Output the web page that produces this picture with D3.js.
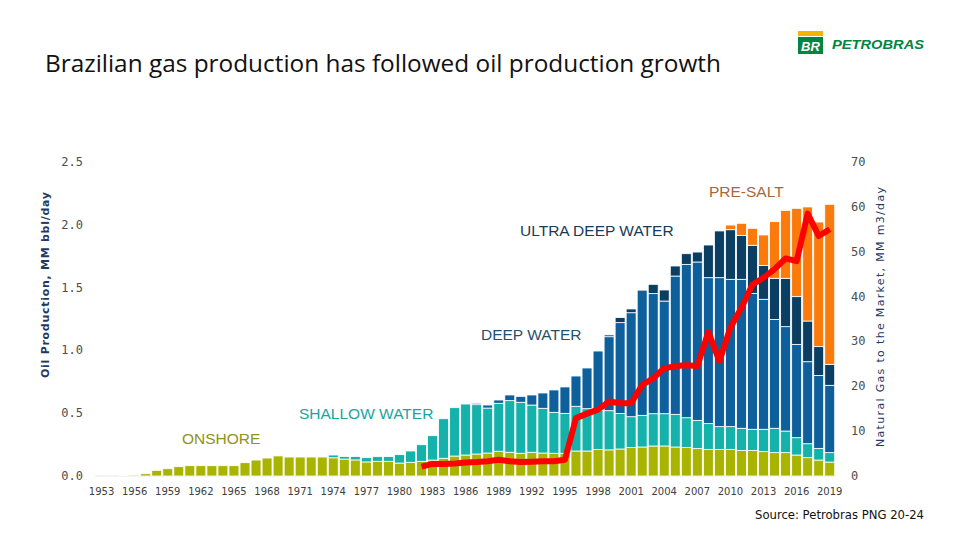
<!DOCTYPE html>
<html>
<head>
<meta charset="utf-8">
<script src="https://cdn.jsdelivr.net/npm/d3@7"></script>
<style>
  body { margin: 0; background: #fff; }
  svg { display: block; }
</style>
</head>
<body>
<div id="chart"></div>
<script>
// Years on the x axis (one bar each)
const years = d3.range(1953, 2020);
const yearTicks = [1953, 1956, 1959, 1962, 1965, 1968, 1971, 1974, 1977, 1980, 1983, 1986,
  1989, 1992, 1995, 1998, 2001, 2004, 2007, 2010, 2013, 2016, 2019];

// Oil production by water depth, MM bbl/day (1953..2019)
const onshore = [0.002, 0.003, 0.005, 0.008, 0.018, 0.045, 0.058, 0.074, 0.082, 0.082,
  0.082, 0.082, 0.082, 0.106, 0.127, 0.143, 0.160, 0.151, 0.151, 0.151,
  0.151, 0.145, 0.135, 0.128, 0.112, 0.117, 0.117, 0.103, 0.109, 0.117,
  0.127, 0.141, 0.159, 0.167, 0.175, 0.183, 0.197, 0.189, 0.181, 0.189,
  0.183, 0.181, 0.181, 0.199, 0.199, 0.212, 0.208, 0.215, 0.226, 0.231,
  0.239, 0.239, 0.231, 0.226, 0.218, 0.212, 0.212, 0.212, 0.204, 0.204,
  0.194, 0.186, 0.186, 0.167, 0.146, 0.127, 0.111];
const shallow = [0, 0, 0, 0, 0, 0, 0, 0, 0, 0,
  0, 0, 0, 0, 0, 0, 0, 0, 0, 0,
  0, 0.022, 0.020, 0.027, 0.034, 0.037, 0.037, 0.067, 0.090, 0.132,
  0.194, 0.315, 0.385, 0.406, 0.393, 0.358, 0.382, 0.411, 0.406, 0.376,
  0.356, 0.326, 0.318, 0.356, 0.337, 0.311, 0.312, 0.283, 0.246, 0.252,
  0.257, 0.257, 0.260, 0.238, 0.225, 0.205, 0.181, 0.181, 0.176, 0.168,
  0.178, 0.194, 0.172, 0.138, 0.111, 0.093, 0.075];
const deep = [0, 0, 0, 0, 0, 0, 0, 0, 0, 0,
  0, 0, 0, 0, 0, 0, 0, 0, 0, 0,
  0, 0, 0, 0, 0, 0, 0, 0, 0, 0,
  0, 0, 0, 0, 0.011, 0.024, 0.026, 0.045, 0.047, 0.080,
  0.122, 0.178, 0.210, 0.241, 0.324, 0.472, 0.589, 0.723, 0.828, 0.998,
  0.956, 0.897, 1.101, 1.221, 1.261, 1.162, 1.186, 1.173, 1.186, 1.082,
  1.035, 0.867, 0.831, 0.743, 0.653, 0.581, 0.536];
const ultraDeep = [0, 0, 0, 0, 0, 0, 0, 0, 0, 0,
  0, 0, 0, 0, 0, 0, 0, 0, 0, 0,
  0, 0, 0, 0, 0, 0, 0, 0, 0, 0,
  0, 0, 0, 0, 0, 0, 0, 0, 0, 0,
  0, 0, 0, 0, 0, 0, 0.014, 0.040, 0.030, 0.005,
  0.074, 0.088, 0.080, 0.085, 0.079, 0.260, 0.372, 0.395, 0.350, 0.383,
  0.270, 0.327, 0.385, 0.380, 0.324, 0.229, 0.167];
const preSalt = [0, 0, 0, 0, 0, 0, 0, 0, 0, 0,
  0, 0, 0, 0, 0, 0, 0, 0, 0, 0,
  0, 0, 0, 0, 0, 0, 0, 0, 0, 0,
  0, 0, 0, 0, 0, 0, 0, 0, 0, 0,
  0, 0, 0, 0, 0, 0, 0, 0, 0, 0,
  0, 0, 0, 0, 0, 0, 0, 0.037, 0.096, 0.135,
  0.242, 0.451, 0.541, 0.703, 0.908, 0.992, 1.274];

// Natural gas to the market, MM m3/day (null before 1982)
const gas = [null, null, null, null, null, null, null, null, null, null,
  null, null, null, null, null, null, null, null, null, null,
  null, null, null, null, null, null, null, null, null, 2.1,
  2.7, 2.7, 2.8, 3.0, 3.1, 3.3, 3.6, 3.3, 3.1, 3.2,
  3.3, 3.3, 3.6, 12.9, 13.9, 14.8, 16.6, 16.2, 16.2, 20.3,
  21.8, 24.0, 24.5, 24.7, 24.5, 32.1, 25.6, 33.1, 37.5, 42.7,
  44.2, 46.1, 48.5, 47.9, 58.5, 53.5, 55.0];

const oilTicks = [0, 0.5, 1.0, 1.5, 2.0, 2.5];
const gasTicks = [0, 10, 20, 30, 40, 50, 60, 70];

const seriesKeys = ["onshore", "shallow", "deep", "ultra", "presalt"];
const seriesColors = ["#a9b400", "#14b2aa", "#0d609c", "#0a3e62", "#fa7b0c"];

const width = 960, height = 540;
const svg = d3.select("#chart").append("svg")
  .attr("width", width)
  .attr("height", height);

// Scales
const x = d3.scaleBand()
  .domain(years)
  .range([95.5, 835.8])
  .padding(0.1);
const yOil = d3.scaleLinear().domain([0, 2.5]).range([476, 162]);
const yGas = d3.scaleLinear().domain([0, 70]).range([476, 162]);

// Build table for stacking
const table = years.map((yr, i) => ({
  year: yr,
  onshore: onshore[i],
  shallow: shallow[i],
  deep: deep[i],
  ultra: ultraDeep[i],
  presalt: preSalt[i]
}));
const stacked = d3.stack().keys(seriesKeys)(table);

// Baseline
svg.append("line")
  .attr("x1", x.range()[0]).attr("x2", x.range()[1])
  .attr("y1", yOil(0)).attr("y2", yOil(0))
  .attr("stroke", "#d9d9d9")
  .attr("stroke-width", 1);

// Bars
svg.append("g")
  .selectAll("g")
  .data(stacked)
  .join("g")
  .attr("fill", (d, i) => seriesColors[i])
  .selectAll("rect")
  .data(d => d.filter(p => p[1] - p[0] > 0))
  .join("rect")
  .attr("x", d => x(d.data.year))
  .attr("width", x.bandwidth())
  .attr("y", d => yOil(d[1]))
  .attr("height", d => yOil(d[0]) - yOil(d[1]))
  .attr("stroke", "#fff")
  .attr("stroke-width", 0.8);

// Gas line
const gasLine = d3.line()
  .defined(d => d.v != null)
  .x(d => x(d.year) + x.bandwidth() / 2)
  .y(d => yGas(d.v));
svg.append("path")
  .datum(years.map((yr, i) => ({ year: yr, v: gas[i] })))
  .attr("d", gasLine)
  .attr("fill", "none")
  .attr("stroke", "#ff0000")
  .attr("stroke-width", 6)
  .attr("stroke-linejoin", "round");

// Left axis labels
svg.append("g")
  .selectAll("text")
  .data(oilTicks)
  .join("text")
  .attr("x", 83)
  .attr("y", d => yOil(d) + 4)
  .attr("text-anchor", "end")
  .style("font-family", "DejaVu Sans Mono")
  .style("font-size", "12px")
  .style("fill", "#4d4d4d")
  .text(d => d.toFixed(1));

// Right axis labels
svg.append("g")
  .selectAll("text")
  .data(gasTicks)
  .join("text")
  .attr("x", 851)
  .attr("y", d => yGas(d) + 4)
  .attr("text-anchor", "start")
  .style("font-family", "DejaVu Sans Mono")
  .style("font-size", "12px")
  .style("fill", "#4d4d4d")
  .text(d => d);

// X tick labels
svg.append("g")
  .selectAll("text")
  .data(yearTicks)
  .join("text")
  .attr("x", d => x(d) + x.bandwidth() / 2)
  .attr("y", 495)
  .attr("text-anchor", "middle")
  .style("font-family", "DejaVu Sans")
  .style("font-size", "10px")
  .style("fill", "#404040")
  .text(d => d);

// Axis titles
svg.append("text")
  .attr("transform", "translate(49,285) rotate(-90)")
  .attr("text-anchor", "middle")
  .attr("textLength", 186)
  .style("font-family", "DejaVu Sans")
  .style("font-size", "11px")
  .style("font-weight", "bold")
  .style("fill", "#1f3864")
  .text("Oil Production, MM bbl/day");

svg.append("text")
  .attr("transform", "translate(884,317) rotate(-90)")
  .attr("text-anchor", "middle")
  .attr("textLength", 260)
  .style("font-family", "DejaVu Sans")
  .style("font-size", "11px")
  .style("fill", "#1f3864")
  .text("Natural Gas to the Market, MM m3/day");

// Series labels
const seriesLabels = [
  { text: "ONSHORE", x: 182, y: 444, color: "#8e9220" },
  { text: "SHALLOW WATER", x: 299, y: 419, color: "#1aa5a0" },
  { text: "DEEP WATER", x: 481, y: 340, color: "#1f5170" },
  { text: "ULTRA DEEP WATER", x: 520, y: 236, color: "#173a58" },
  { text: "PRE-SALT", x: 709, y: 197, color: "#a5693a" }
];
svg.append("g")
  .selectAll("text")
  .data(seriesLabels)
  .join("text")
  .attr("x", d => d.x)
  .attr("y", d => d.y)
  .style("font-family", "Liberation Sans")
  .style("font-size", "15.5px")
  .style("fill", d => d.color)
  .text(d => d.text);

// Title
svg.append("text")
  .attr("x", 45)
  .attr("y", 72)
  .attr("textLength", 676)
  .attr("lengthAdjust", "spacingAndGlyphs")
  .style("font-family", "Open Sans")
  .style("font-size", "23px")
  .style("fill", "#111")
  .text("Brazilian gas production has followed oil production growth");

// Logo
const logo = svg.append("g");
logo.append("rect").attr("x", 798).attr("y", 31).attr("width", 25).attr("height", 5).attr("fill", "#f5b400");
logo.append("rect").attr("x", 798).attr("y", 37).attr("width", 25).attr("height", 17).attr("fill", "#008542");
logo.append("text")
  .attr("x", 810.5).attr("y", 51)
  .attr("text-anchor", "middle")
  .style("font-family", "Liberation Sans")
  .style("font-size", "13px")
  .style("font-weight", "bold")
  .style("font-style", "italic")
  .style("fill", "#fff")
  .text("BR");
logo.append("text")
  .attr("x", 832).attr("y", 49)
  .attr("textLength", 92)
  .attr("lengthAdjust", "spacingAndGlyphs")
  .style("font-family", "Liberation Sans")
  .style("font-size", "13px")
  .style("font-weight", "bold")
  .style("font-style", "italic")
  .style("fill", "#008542")
  .text("PETROBRAS");

// Source
svg.append("text")
  .attr("x", 755)
  .attr("y", 519)
  .attr("textLength", 169)
  .attr("lengthAdjust", "spacingAndGlyphs")
  .style("font-family", "DejaVu Sans")
  .style("font-size", "12px")
  .style("fill", "#111")
  .text("Source: Petrobras PNG 20-24");
</script>
</body>
</html>
